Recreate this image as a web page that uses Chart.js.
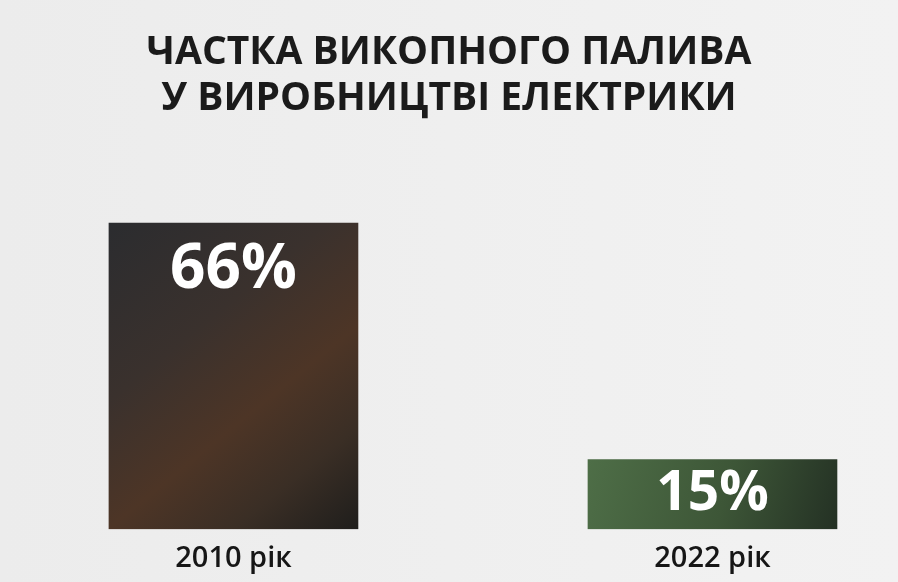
<!DOCTYPE html>
<html>
<head>
<meta charset="utf-8">
<script src="https://cdn.jsdelivr.net/npm/chart.js@4.4.1/dist/chart.umd.min.js"></script>
<style>
  html, body { margin: 0; padding: 0; background: #efefef; }
  #wrap { width: 898px; height: 582px; }
</style>
</head>
<body>
<div id="wrap"><canvas id="c" width="898" height="582"></canvas></div>
<script>
// ---- data ----
const titleLines = ['ЧАСТКА ВИКОПНОГО ПАЛИВА', 'У ВИРОБНИЦТВІ ЕЛЕКТРИКИ'];
const categories = ['2010 рік', '2022 рік'];
const shareValues = [66, 15];
const valueLabels = ['66%', '15%'];

// ---- styles ----
const BAR_W = 249;
const gradientStops = [
  [[0, '#2b2c2f'], [0.35, '#3a312d'], [0.6, '#4d3526'], [0.8, '#3a2e25'], [1, '#1f1e1c']],
  [[0, '#4e6e47'], [0.55, '#3d5637'], [1, '#243124']]
];
const fallbackColors = ['#3d3129', '#3e5838'];

function barGradient(ctx) {
  const chart = ctx.chart;
  const { chartArea, scales } = chart;
  const i = ctx.dataIndex;
  if (!chartArea || ctx.type !== 'data' || !scales.x || !scales.y) return fallbackColors[i];
  const xc = scales.x.getPixelForValue(i);
  const yTop = scales.y.getPixelForValue(shareValues[i]);
  const yBase = scales.y.getPixelForValue(0);
  const c = chart.ctx;
  const g = c.createLinearGradient(xc - BAR_W / 2, yTop, xc + BAR_W / 2, yBase);
  gradientStops[i].forEach(([o, col]) => g.addColorStop(o, col));
  return g;
}

const bgPlugin = {
  id: 'bg',
  beforeDraw(chart) {
    const c = chart.ctx;
    c.save();
    const g = c.createLinearGradient(0, 0, chart.width, 0);
    g.addColorStop(0, '#ececec');
    g.addColorStop(1, '#f2f2f2');
    c.fillStyle = g;
    c.fillRect(0, 0, chart.width, chart.height);
    c.restore();
  }
};

const valueLabelPlugin = {
  id: 'valueLabels',
  afterDatasetsDraw(chart) {
    const meta = chart.getDatasetMeta(0);
    const c = chart.ctx;
    c.save();
    c.fillStyle = '#ffffff';
    c.textAlign = 'center';
    c.textBaseline = 'middle';
    meta.data.forEach((el, i) => {
      const size = i === 0 ? 62 : 55;
      c.font = `bold ${size}px "Open Sans", sans-serif`;
      const y = Math.min(el.y + 47, (el.y + el.base) / 2);
      c.fillText(valueLabels[i], el.x, y);
    });
    c.restore();
  }
};

new Chart(document.getElementById('c'), {
  type: 'bar',
  data: {
    datasets: [{
      data: shareValues.map((v, i) => ({ x: i, y: v })),
      backgroundColor: barGradient,
      borderWidth: 0,
      barThickness: BAR_W
    }]
  },
  options: {
    responsive: false,
    animation: false,
    devicePixelRatio: 1,
    layout: { padding: { top: 0, bottom: 2, left: 0, right: 0 } },
    plugins: {
      legend: { display: false },
      tooltip: { enabled: false },
      title: {
        display: true,
        text: titleLines,
        color: '#1b1b1b',
        font: { family: '"Open Sans", sans-serif', size: 39, weight: 'bold', lineHeight: 1.2 },
        padding: { top: 29, bottom: 30 }
      }
    },
    scales: {
      x: {
        type: 'linear',
        offset: false,
        min: -0.4874,
        max: 1.3873,
        grid: { display: false },
        border: { display: false },
        afterBuildTicks: (scale) => { scale.ticks = categories.map((_, i) => ({ value: i })); },
        ticks: {
          autoSkip: false,
          maxRotation: 0,
          padding: 4,
          color: '#161616',
          font: { family: '"Open Sans", sans-serif', size: 29, weight: '600' },
          callback: (v) => categories[v]
        }
      },
      y: {
        display: false,
        min: 0,
        max: 81.2,
        grid: { display: false }
      }
    }
  },
  plugins: [bgPlugin, valueLabelPlugin]
});
</script>
</body>
</html>
